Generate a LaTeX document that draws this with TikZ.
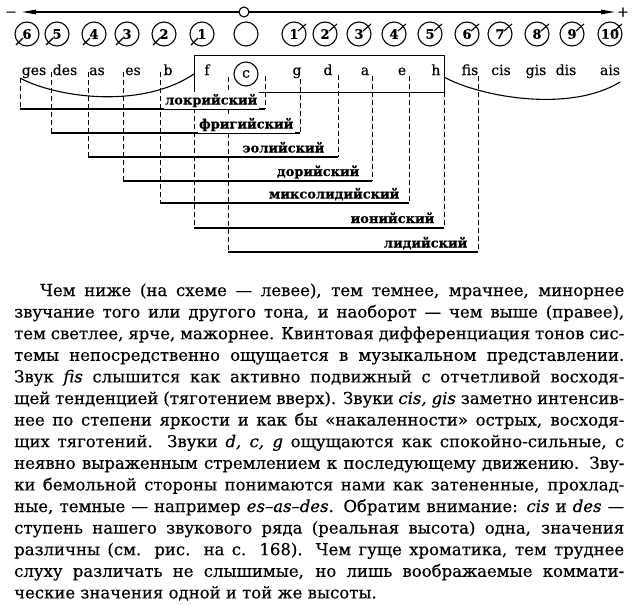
\documentclass[tikz,border=0pt]{standalone}
\usepackage{fontspec}
\setmainfont{DejaVu Serif}[FakeBold=0.4]
\usetikzlibrary{arrows.meta}
\newcommand\mybracket[6]{%
  \coordinate (#1lt) at (#2,#3);
  \coordinate (#1lb) at (#2,#6);
  \coordinate (#1rt) at (#4,#5);
  \coordinate (#1rb) at (#4,#6);
  \draw[dsh] (#1lt) -- (#1lb);
  \draw[ln] (#1lb) -- (#1rb);
  \draw[dsh] (#1rt) -- (#1rb);
}
\begin{document}
\begin{tikzpicture}[x=1pt,y=-1pt,
  ln/.style={line width=1.1pt},
  dsh/.style={line width=1.0pt, dash pattern=on 5pt off 3pt},
  num/.style={circle, draw, line width=1.1pt, minimum size=24pt, inner sep=0pt, font=\bfseries\fontsize{13}{13}\selectfont},
  note/.style={inner sep=0pt, anchor=base, font=\fontsize{14}{14}\selectfont},
  mode/.style={inner sep=1.5pt, fill=white, anchor=base east, font=\bfseries\fontsize{13}{13}\selectfont},
  txt/.style={inner sep=0pt, anchor=base west, font=\fontsize{16.5}{21.6}\selectfont},
  sign/.style={inner sep=0pt, anchor=base, font=\fontsize{14}{14}\selectfont},
]
\useasboundingbox (0,0) rectangle (633,605);

% axis
\coordinate (axL) at (22,12);
\coordinate (axR) at (615,12);
\node[sign] (minus) at (11,16.5) {−};
\node[sign] (plus) at (623,16.5) {+};
\draw[ln, {Triangle[length=14pt,width=4.5pt]}-{Triangle[length=14pt,width=4.5pt]}] (axL) -- (axR);
\node[circle, draw, ln, fill=white, minimum size=10pt, inner sep=0pt] (zero) at (244,12) {};

% circled numbers
\foreach \n/\x in {6/27,5/57,4/94,3/127,2/164,1/202} {
  \node[num] (fl\n) at (\x,34) {\n};
  \draw[ln] (fl\n.center) ++(-4,4) -- ++(-7,7);
}
\node[num] (mid) at (246,34) {};
\foreach \n/\x in {1/294,2/325,3/359,4/394,5/430,6/467,7/500,8/537,9/572,10/610} {
  \node[num] (sh\n) at (\x,34) {\n};
  \draw[ln] (sh\n.center) ++(4,-3) -- ++(8,-7);
}

% note names
\foreach \t/\x in {ges/34,des/65,as/97,es/133,b/168,f/207,g/297,d/328,a/365,e/402,h/436,fis/470,cis/501,gis/536,dis/566,ais/610}
  \node[note] (n\t) at (\x,75) {\t};
\node[circle, draw, ln, minimum size=24pt, inner sep=0pt, font=\fontsize{14}{14}\selectfont] (nc) at (246,74) {c};

% box
\node[draw, ln, anchor=north west, minimum width=250pt, minimum height=37pt, inner sep=0pt] (box) at (194,55) {};

% curves
\coordinate (cL0) at (20,78);
\coordinate (cL1) at (194,74);
\draw[ln] (cL0) .. controls (55,97) and (140,110) .. (cL1);
\coordinate (cR0) at (444,77);
\coordinate (cR1) at (620,82);
\draw[ln] (cR0) .. controls (480,97) and (570,113) .. (cR1);

% brackets
\mybracket{lok}{20}{78}{265}{76}{109}
\mybracket{fri}{51}{72}{300}{79}{133}
\mybracket{eol}{88}{72}{338}{75}{157}
\mybracket{dor}{123}{72}{372}{76}{181}
\mybracket{mix}{160}{72}{409}{76}{203}
\mybracket{ion}{194}{92}{444}{92}{228}
\mybracket{lid}{228}{77}{478}{76}{252}

% mode labels
\node[mode] (loklab) at (259,104.5) {локрийский};
\node[mode] (frilab) at (295,128.5) {фригийский};
\node[mode] (eollab) at (326,152.5) {эолийский};
\node[mode] (dorlab) at (361,176) {дорийский};
\node[mode] (mixlab) at (401,198.5) {миксолидийский};
\node[mode] (ionlab) at (436,223) {ионийский};
\node[mode] (lidlab) at (469,247.5) {лидийский};

% text
\node[txt] (t1) at (40,296) {\makebox[584pt][s]{Чем ниже (на схеме — левее), тем темнее, мрачнее, минорнее}};
\node[txt] (t2) at (14,317.6) {\makebox[610pt][s]{звучание того или другого тона, и наоборот — чем выше (правее),}};
\node[txt] (t3) at (14,339.2) {\makebox[610pt][s]{тем светлее, ярче, мажорнее. Квинтовая дифференциация тонов сис-}};
\node[txt] (t4) at (14,360.8) {\makebox[610pt][s]{темы непосредственно ощущается в музыкальном представлении.}};
\node[txt] (t5) at (14,382.4) {\makebox[610pt][s]{Звук \textit{fis} слышится как активно подвижный с отчетливой восходя-}};
\node[txt] (t6) at (14,404) {\makebox[610pt][s]{щей тенденцией (тяготением вверх). Звуки \textit{cis, gis} заметно интенсив-}};
\node[txt] (t7) at (14,425.6) {\makebox[610pt][s]{нее по степени яркости и как бы «накаленности» острых, восходя-}};
\node[txt] (t8) at (14,447.2) {\makebox[610pt][s]{щих тяготений. Звуки \textit{d, c, g} ощущаются как спокойно-сильные, с}};
\node[txt] (t9) at (14,468.8) {\makebox[610pt][s]{неявно выраженным стремлением к последующему движению. Зву-}};
\node[txt] (t10) at (14,490.4) {\makebox[610pt][s]{ки бемольной стороны понимаются нами как затененные, прохлад-}};
\node[txt] (t11) at (14,512) {\makebox[610pt][s]{ные, темные — например \textit{es–as–des}. Обратим внимание: \textit{cis} и \textit{des} —}};
\node[txt] (t12) at (14,533.6) {\makebox[610pt][s]{ступень нашего звукового ряда (реальная высота) одна, значения}};
\node[txt] (t13) at (14,555.2) {\makebox[610pt][s]{различны (см. рис. на с. 168). Чем гуще хроматика, тем труднее}};
\node[txt] (t14) at (14,576.8) {\makebox[610pt][s]{слуху различать не слышимые, но лишь воображаемые коммати-}};
\node[txt] (t15) at (14,598.4) {ческие значения одной и той же высоты.};
\end{tikzpicture}
\end{document}
